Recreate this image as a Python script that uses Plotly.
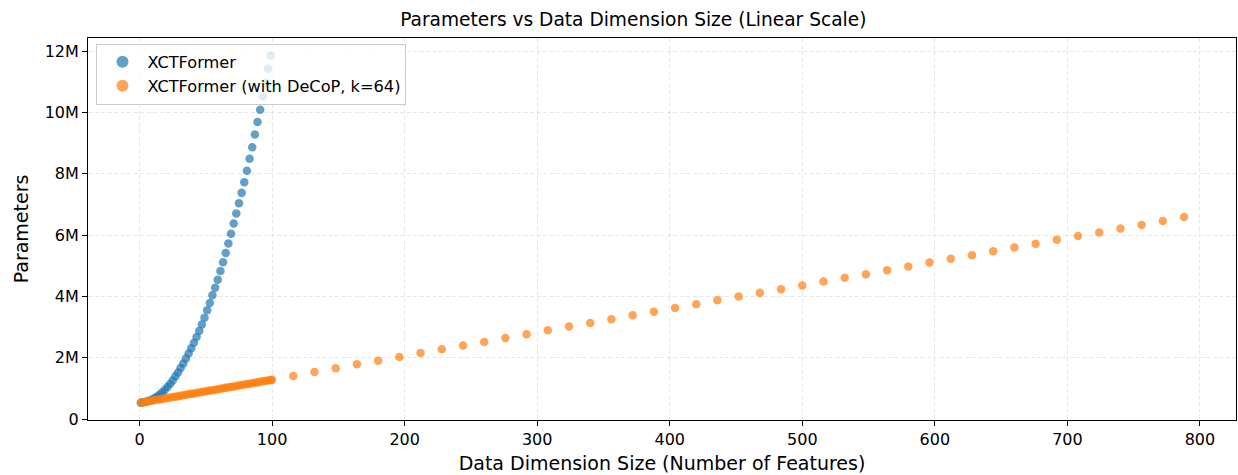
import plotly.graph_objects as go

# ---- data (parameters in millions) ----
dims_dense = [1, 3, 5, 7, 9, 11, 13, 15, 17, 19, 21, 23, 25, 27, 29, 31, 33, 35, 37, 39,
              41, 43, 45, 47, 49, 51, 53, 55, 57, 59, 61, 63, 65, 67, 69, 71, 73, 75, 77, 79,
              81, 83, 85, 87, 89, 91, 93, 95, 97, 99]
xct_params_m = [0.54, 0.55, 0.57, 0.60, 0.63, 0.68, 0.73, 0.80, 0.87, 0.95,
                1.05, 1.15, 1.26, 1.40, 1.52, 1.67, 1.82, 1.98, 2.14, 2.31,
                2.49, 2.68, 2.88, 3.09, 3.31, 3.55, 3.79, 4.04, 4.29, 4.55,
                4.83, 5.12, 5.42, 5.73, 6.05, 6.38, 6.71, 7.04, 7.38, 7.73,
                8.10, 8.49, 8.87, 9.28, 9.69, 10.09, 10.52, 10.97, 11.43, 11.86]

dims_decop = dims_dense + [100, 116, 132, 148, 164, 180, 196, 212, 228, 244, 260, 276, 292,
                           308, 324, 340, 356, 372, 388, 404, 420, 436, 452, 468, 484, 500,
                           516, 532, 548, 564, 580, 596, 612, 628, 644, 660, 676, 692, 708,
                           724, 740, 756, 772, 788]
decop_params_m = [0.540, 0.555, 0.570, 0.585, 0.600, 0.616, 0.631, 0.646, 0.661, 0.676,
                  0.691, 0.706, 0.721, 0.736, 0.751, 0.767, 0.782, 0.797, 0.812, 0.827,
                  0.842, 0.857, 0.872, 0.887, 0.902, 0.918, 0.933, 0.948, 0.963, 0.978,
                  0.993, 1.008, 1.023, 1.038, 1.053, 1.069, 1.084, 1.099, 1.114, 1.129,
                  1.144, 1.159, 1.174, 1.189, 1.204, 1.220, 1.235, 1.250, 1.265, 1.280,
                  1.288, 1.41, 1.54, 1.66, 1.79, 1.91, 2.03, 2.16, 2.28, 2.40,
                  2.52, 2.65, 2.77, 2.90, 3.02, 3.14, 3.26, 3.39, 3.50, 3.63,
                  3.75, 3.88, 4.00, 4.12, 4.24, 4.36, 4.49, 4.61, 4.73, 4.86,
                  4.98, 5.11, 5.23, 5.35, 5.48, 5.60, 5.72, 5.85, 5.97, 6.09,
                  6.22, 6.33, 6.46, 6.59]

x_tick_vals = [0, 100, 200, 300, 400, 500, 600, 700, 800]
y_tick_vals_m = [0, 2, 4, 6, 8, 10, 12]
y_tick_text = ["0", "2M", "4M", "6M", "8M", "10M", "12M"]

series_names = ["XCTFormer", "XCTFormer (with DeCoP, k=64)"]

FONT = "DejaVu Sans"

fig = go.Figure()
fig.add_trace(go.Scatter(
    x=dims_dense, y=[v * 1e6 for v in xct_params_m], mode="markers",
    name=series_names[0],
    marker=dict(color="#1f77b4", size=8.5, opacity=0.7, line=dict(width=0)),
))
fig.add_trace(go.Scatter(
    x=dims_decop, y=[v * 1e6 for v in decop_params_m], mode="markers",
    name=series_names[1],
    marker=dict(color="#ff7f0e", size=8.5, opacity=0.7, line=dict(width=0)),
))

grid = dict(showgrid=True, gridcolor="rgba(176,176,176,0.3)", griddash="4px,2.5px", gridwidth=1)

fig.update_layout(
    width=1238, height=475,
    margin=dict(l=88, r=2, t=38, b=55),
    paper_bgcolor="white", plot_bgcolor="white",
    font=dict(family=FONT, size=16, color="black"),
    title=dict(text="Parameters vs Data Dimension Size (Linear Scale)",
               x=0.475, xref="paper", xanchor="center",
               y=1 - 19 / 475, yref="container", yanchor="middle",
               font=dict(family=FONT, size=18.6, color="black")),
    xaxis=dict(range=[-38.9, 827.2], tickvals=x_tick_vals, automargin=False,
               ticks="outside", ticklen=5, tickcolor="black", tickwidth=1,
               showline=True, linecolor="black", linewidth=1, mirror=True,
               zeroline=False, tickfont=dict(size=16),
               title=dict(text="Data Dimension Size (Number of Features)",
                          font=dict(size=19), standoff=8),
               **grid),
    yaxis=dict(range=[-0.026e6, 12.43e6], tickvals=[v * 1e6 for v in y_tick_vals_m],
               ticktext=y_tick_text, automargin=False,
               ticks="outside", ticklen=5, tickcolor="black", tickwidth=1,
               showline=True, linecolor="black", linewidth=1, mirror=True,
               zeroline=False, tickfont=dict(size=16),
               title=dict(text="Parameters", font=dict(size=19), standoff=10),
               **grid),
    legend=dict(x=0.0074, y=0.985, xanchor="left", yanchor="top",
                bgcolor="rgba(255,255,255,0.8)", bordercolor="#cccccc", borderwidth=1,
                font=dict(family=FONT, size=16.2), tracegroupgap=0,
                itemsizing="constant", itemwidth=40),
    showlegend=True,
)

fig.write_html("out.html", config={"displayModeBar": False},
               post_script="document.body.style.margin='0';document.body.style.overflow='hidden';")
